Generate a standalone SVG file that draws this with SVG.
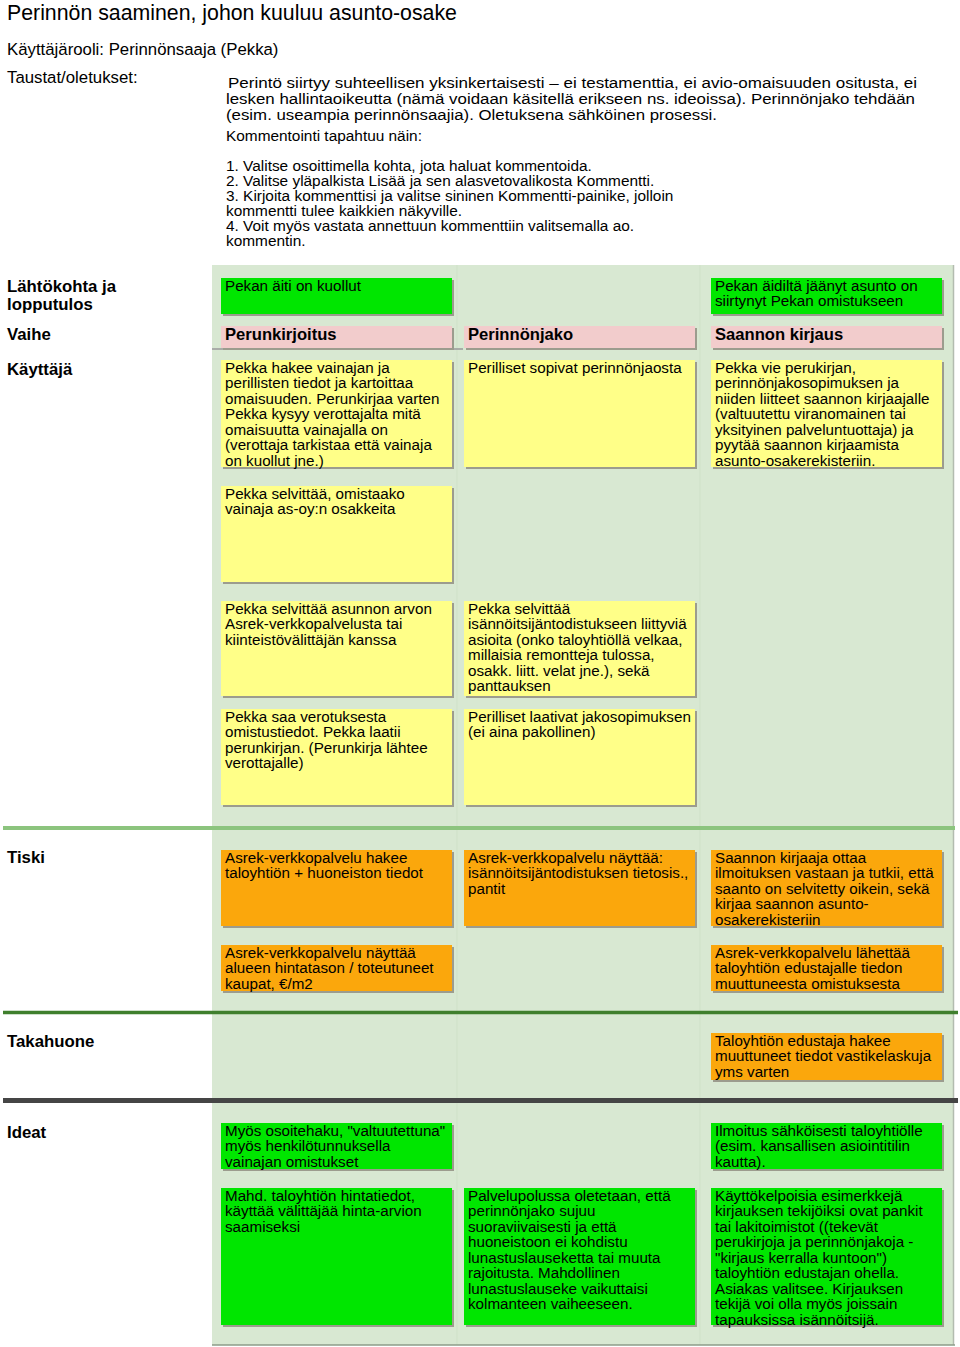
<svg xmlns="http://www.w3.org/2000/svg" width="960" height="1347" viewBox="0 0 960 1347">
<style>
text{font-family:"Liberation Sans",Arial,sans-serif;fill:#000}
.t{font-size:15.2px}
.hd{font-size:15.4px}
.ph{font-size:16.6px;font-weight:bold}
.ln{font-size:16.8px;font-weight:bold}
.g{fill:#00e600}
.y{fill:#ffff88}
.o{fill:#fba70c}
.p{fill:#f2cccc}
.sh{fill:#9c9c8e}
</style>
<rect width="960" height="1347" fill="#fff"/>
<g id="header">
<text x="7" y="20" style="font-size:21.3px">Perinnön saaminen, johon kuuluu asunto-osake</text>
<text x="7" y="55" style="font-size:16.8px">Käyttäjärooli: Perinnönsaaja (Pekka)</text>
<text x="7" y="83" style="font-size:16.8px">Taustat/oletukset:</text>
<text class="hd" x="228" y="88" textLength="689" lengthAdjust="spacingAndGlyphs"> Perintö siirtyy suhteellisen yksinkertaisesti – ei testamenttia, ei avio-omaisuuden ositusta, ei</text>
<text class="hd" x="226" y="104" textLength="689" lengthAdjust="spacingAndGlyphs">lesken hallintaoikeutta (nämä voidaan käsitellä erikseen ns. ideoissa). Perinnönjako tehdään</text>
<text class="hd" x="226" y="120" textLength="491" lengthAdjust="spacingAndGlyphs">(esim. useampia perinnönsaajia). Oletuksena sähköinen prosessi.</text>
<text class="hd" x="226" y="141">Kommentointi tapahtuu näin:</text>
<text class="hd" x="226" y="171">1. Valitse osoittimella kohta, jota haluat kommentoida.</text>
<text class="hd" x="226" y="186">2. Valitse yläpalkista Lisää ja sen alasvetovalikosta Kommentti.</text>
<text class="hd" x="226" y="201">3. Kirjoita kommenttisi ja valitse sininen Kommentti-painike, jolloin</text>
<text class="hd" x="226" y="216">kommentti tulee kaikkien näkyville.</text>
<text class="hd" x="226" y="231">4. Voit myös vastata annettuun kommenttiin valitsemalla ao.</text>
<text class="hd" x="226" y="246">kommentin.</text>
</g>
<g id="board">
<rect x="212" y="265" width="741" height="1080" fill="#d8e8d2"/>
<line x1="457" y1="265" x2="457" y2="1345" stroke="#cfe1c8" stroke-width="1"/>
<line x1="700" y1="265" x2="700" y2="1345" stroke="#cfe1c8" stroke-width="1"/>
<line x1="953.5" y1="265" x2="953.5" y2="1345" stroke="#b3bcb0" stroke-width="1.5"/>
<line x1="212" y1="1345" x2="955" y2="1345" stroke="#8d9c89" stroke-width="1.5"/>
<line x1="212" y1="349" x2="463" y2="349" stroke="#9a9a9a" stroke-width="1.5"/>
<line x1="3" y1="828" x2="955" y2="828" stroke="#8cc47e" stroke-width="4"/>
<line x1="3" y1="1012.5" x2="958" y2="1012.5" stroke="#3f7f2d" stroke-width="3.5"/>
<line x1="3" y1="1100.5" x2="958" y2="1100.5" stroke="#454545" stroke-width="5"/>
</g>
<g id="lanes">
<text class="ln" x="7" y="292">Lähtökohta ja</text>
<text class="ln" x="7" y="310">lopputulos</text>
<text class="ln" x="7" y="340">Vaihe</text>
<text class="ln" x="7" y="375">Käyttäjä</text>
<text class="ln" x="7" y="863">Tiski</text>
<text class="ln" x="7" y="1047">Takahuone</text>
<text class="ln" x="7" y="1138">Ideat</text>
</g>
<g id="connectors"/>
<g id="start">
<rect class="sh" x="223" y="280" width="231" height="36"/><rect class="g" x="221" y="278" width="231" height="36"/>
<text class="t" x="225" y="290.5">Pekan äiti on kuollut</text>
</g>
<g id="result">
<rect class="sh" x="713" y="280" width="231" height="36"/><rect class="g" x="711" y="278" width="231" height="36"/>
<text class="t" x="715" y="290.5">Pekan äidiltä jäänyt asunto on</text>
<text class="t" x="715" y="306">siirtynyt Pekan omistukseen</text>
</g>
<g id="phase1">
<rect class="sh" x="223" y="328" width="231" height="22"/><rect class="p" x="221" y="326" width="231" height="22"/>
<text class="ph" x="225" y="340">Perunkirjoitus</text>
</g>
<g id="phase2">
<rect class="sh" x="466" y="328" width="231" height="22"/><rect class="p" x="464" y="326" width="231" height="22"/>
<text class="ph" x="468" y="340">Perinnönjako</text>
</g>
<g id="phase3">
<rect class="sh" x="713" y="328" width="231" height="22"/><rect class="p" x="711" y="326" width="231" height="22"/>
<text class="ph" x="715" y="340">Saannon kirjaus</text>
</g>
<g id="user-a1">
<rect class="sh" x="223" y="362" width="231" height="107"/><rect class="y" x="221" y="360" width="231" height="107"/>
<text class="t" x="225" y="372.5">Pekka hakee vainajan ja</text>
<text class="t" x="225" y="388">perillisten tiedot ja kartoittaa</text>
<text class="t" x="225" y="403.5">omaisuuden. Perunkirjaa varten</text>
<text class="t" x="225" y="419">Pekka kysyy verottajalta mitä</text>
<text class="t" x="225" y="434.5">omaisuutta vainajalla on</text>
<text class="t" x="225" y="450">(verottaja tarkistaa että vainaja</text>
<text class="t" x="225" y="465.5">on kuollut jne.)</text>
</g>
<g id="user-b1">
<rect class="sh" x="466" y="362" width="231" height="107"/><rect class="y" x="464" y="360" width="231" height="107"/>
<text class="t" x="468" y="372.5">Perilliset sopivat perinnönjaosta</text>
</g>
<g id="user-c1">
<rect class="sh" x="713" y="362" width="231" height="107"/><rect class="y" x="711" y="360" width="231" height="107"/>
<text class="t" x="715" y="372.5">Pekka vie perukirjan,</text>
<text class="t" x="715" y="388">perinnönjakosopimuksen ja</text>
<text class="t" x="715" y="403.5">niiden liitteet saannon kirjaajalle</text>
<text class="t" x="715" y="419">(valtuutettu viranomainen tai</text>
<text class="t" x="715" y="434.5">yksityinen palveluntuottaja) ja</text>
<text class="t" x="715" y="450">pyytää saannon kirjaamista</text>
<text class="t" x="715" y="465.5">asunto-osakerekisteriin.</text>
</g>
<g id="user-a2">
<rect class="sh" x="223" y="488" width="231" height="96"/><rect class="y" x="221" y="486" width="231" height="96"/>
<text class="t" x="225" y="498.5">Pekka selvittää, omistaako</text>
<text class="t" x="225" y="514">vainaja as-oy:n osakkeita</text>
</g>
<g id="user-a3">
<rect class="sh" x="223" y="603" width="231" height="95"/><rect class="y" x="221" y="601" width="231" height="95"/>
<text class="t" x="225" y="613.5">Pekka selvittää asunnon arvon</text>
<text class="t" x="225" y="629">Asrek-verkkopalvelusta tai</text>
<text class="t" x="225" y="644.5">kiinteistövälittäjän kanssa</text>
</g>
<g id="user-b3">
<rect class="sh" x="466" y="603" width="231" height="95"/><rect class="y" x="464" y="601" width="231" height="95"/>
<text class="t" x="468" y="613.5">Pekka selvittää</text>
<text class="t" x="468" y="629">isännöitsijäntodistukseen liittyviä</text>
<text class="t" x="468" y="644.5">asioita (onko taloyhtiöllä velkaa,</text>
<text class="t" x="468" y="660">millaisia remontteja tulossa,</text>
<text class="t" x="468" y="675.5">osakk. liitt. velat jne.), sekä</text>
<text class="t" x="468" y="691">panttauksen</text>
</g>
<g id="user-a4">
<rect class="sh" x="223" y="711" width="231" height="96"/><rect class="y" x="221" y="709" width="231" height="96"/>
<text class="t" x="225" y="721.5">Pekka saa verotuksesta</text>
<text class="t" x="225" y="737">omistustiedot. Pekka laatii</text>
<text class="t" x="225" y="752.5">perunkirjan. (Perunkirja lähtee</text>
<text class="t" x="225" y="768">verottajalle)</text>
</g>
<g id="user-b4">
<rect class="sh" x="466" y="711" width="231" height="96"/><rect class="y" x="464" y="709" width="231" height="96"/>
<text class="t" x="468" y="721.5">Perilliset laativat jakosopimuksen</text>
<text class="t" x="468" y="737">(ei aina pakollinen)</text>
</g>
<g id="desk-a1">
<rect class="sh" x="223" y="852" width="231" height="76"/><rect class="o" x="221" y="850" width="231" height="76"/>
<text class="t" x="225" y="862.5">Asrek-verkkopalvelu hakee</text>
<text class="t" x="225" y="878">taloyhtiön + huoneiston tiedot</text>
</g>
<g id="desk-b1">
<rect class="sh" x="466" y="852" width="231" height="76"/><rect class="o" x="464" y="850" width="231" height="76"/>
<text class="t" x="468" y="862.5">Asrek-verkkopalvelu näyttää:</text>
<text class="t" x="468" y="878">isännöitsijäntodistuksen tietosis.,</text>
<text class="t" x="468" y="893.5">pantit</text>
</g>
<g id="desk-c1">
<rect class="sh" x="713" y="852" width="231" height="76"/><rect class="o" x="711" y="850" width="231" height="76"/>
<text class="t" x="715" y="862.5">Saannon kirjaaja ottaa</text>
<text class="t" x="715" y="878">ilmoituksen vastaan ja tutkii, että</text>
<text class="t" x="715" y="893.5">saanto on selvitetty oikein, sekä</text>
<text class="t" x="715" y="909">kirjaa saannon asunto-</text>
<text class="t" x="715" y="924.5">osakerekisteriin</text>
</g>
<g id="desk-a2">
<rect class="sh" x="223" y="947" width="231" height="46"/><rect class="o" x="221" y="945" width="231" height="46"/>
<text class="t" x="225" y="957.5">Asrek-verkkopalvelu näyttää</text>
<text class="t" x="225" y="973">alueen hintatason / toteutuneet</text>
<text class="t" x="225" y="988.5">kaupat, €/m2</text>
</g>
<g id="desk-c2">
<rect class="sh" x="713" y="947" width="231" height="46"/><rect class="o" x="711" y="945" width="231" height="46"/>
<text class="t" x="715" y="957.5">Asrek-verkkopalvelu lähettää</text>
<text class="t" x="715" y="973">taloyhtiön edustajalle tiedon</text>
<text class="t" x="715" y="988.5">muuttuneesta omistuksesta</text>
</g>
<g id="back-c1">
<rect class="sh" x="713" y="1035" width="231" height="47"/><rect class="o" x="711" y="1033" width="231" height="47"/>
<text class="t" x="715" y="1045.5">Taloyhtiön edustaja hakee</text>
<text class="t" x="715" y="1061">muuttuneet tiedot vastikelaskuja</text>
<text class="t" x="715" y="1076.5">yms varten</text>
</g>
<g id="idea-a1">
<rect class="sh" x="223" y="1125" width="231" height="46"/><rect class="g" x="221" y="1123" width="231" height="46"/>
<text class="t" x="225" y="1135.5">Myös osoitehaku, "valtuutettuna"</text>
<text class="t" x="225" y="1151">myös henkilötunnuksella</text>
<text class="t" x="225" y="1166.5">vainajan omistukset</text>
</g>
<g id="idea-c1">
<rect class="sh" x="713" y="1125" width="231" height="46"/><rect class="g" x="711" y="1123" width="231" height="46"/>
<text class="t" x="715" y="1135.5">Ilmoitus sähköisesti taloyhtiölle</text>
<text class="t" x="715" y="1151">(esim. kansallisen asiointitilin</text>
<text class="t" x="715" y="1166.5">kautta).</text>
</g>
<g id="idea-a2">
<rect class="sh" x="223" y="1190" width="231" height="137"/><rect class="g" x="221" y="1188" width="231" height="137"/>
<text class="t" x="225" y="1200.5">Mahd. taloyhtiön hintatiedot,</text>
<text class="t" x="225" y="1216">käyttää välittäjää hinta-arvion</text>
<text class="t" x="225" y="1231.5">saamiseksi</text>
</g>
<g id="idea-b2">
<rect class="sh" x="466" y="1190" width="231" height="137"/><rect class="g" x="464" y="1188" width="231" height="137"/>
<text class="t" x="468" y="1200.5">Palvelupolussa oletetaan, että</text>
<text class="t" x="468" y="1216">perinnönjako sujuu</text>
<text class="t" x="468" y="1231.5">suoraviivaisesti ja että</text>
<text class="t" x="468" y="1247">huoneistoon ei kohdistu</text>
<text class="t" x="468" y="1262.5">lunastuslauseketta tai muuta</text>
<text class="t" x="468" y="1278">rajoitusta. Mahdollinen</text>
<text class="t" x="468" y="1293.5">lunastuslauseke vaikuttaisi</text>
<text class="t" x="468" y="1309">kolmanteen vaiheeseen.</text>
</g>
<g id="idea-c2">
<rect class="sh" x="713" y="1190" width="231" height="137"/><rect class="g" x="711" y="1188" width="231" height="137"/>
<text class="t" x="715" y="1200.5">Käyttökelpoisia esimerkkejä</text>
<text class="t" x="715" y="1216">kirjauksen tekijöiksi ovat pankit</text>
<text class="t" x="715" y="1231.5">tai lakitoimistot ((tekevät</text>
<text class="t" x="715" y="1247">perukirjoja ja perinnönjakoja -</text>
<text class="t" x="715" y="1262.5">"kirjaus kerralla kuntoon")</text>
<text class="t" x="715" y="1278">taloyhtiön edustajan ohella.</text>
<text class="t" x="715" y="1293.5">Asiakas valitsee. Kirjauksen</text>
<text class="t" x="715" y="1309">tekijä voi olla myös joissain</text>
<text class="t" x="715" y="1324.5">tapauksissa isännöitsijä.</text>
</g>
</svg>
